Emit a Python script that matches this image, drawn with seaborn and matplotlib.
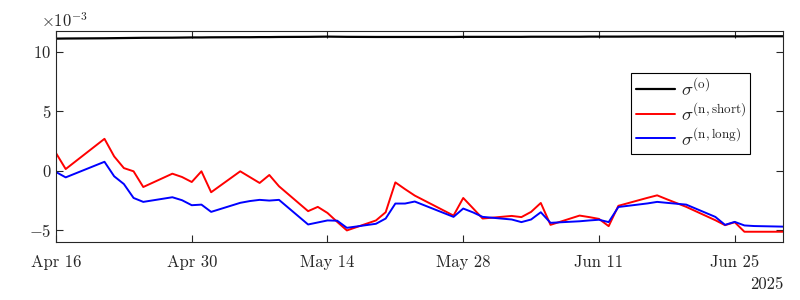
import pandas as pd
import matplotlib
matplotlib.use('Agg')
import matplotlib.pyplot as plt
import seaborn as sns

# trading days shown in the chart
dates = [
    '2025-04-16', '2025-04-17', '2025-04-21', '2025-04-22', '2025-04-23',
    '2025-04-24', '2025-04-25', '2025-04-28', '2025-04-29', '2025-04-30',
    '2025-05-01', '2025-05-02', '2025-05-05', '2025-05-06', '2025-05-07',
    '2025-05-08', '2025-05-09', '2025-05-12', '2025-05-13', '2025-05-14',
    '2025-05-15', '2025-05-16', '2025-05-19', '2025-05-20', '2025-05-21',
    '2025-05-22', '2025-05-23', '2025-05-27', '2025-05-28', '2025-05-29',
    '2025-05-30', '2025-06-02', '2025-06-03', '2025-06-04', '2025-06-05',
    '2025-06-06', '2025-06-09', '2025-06-10', '2025-06-11', '2025-06-12',
    '2025-06-13', '2025-06-16', '2025-06-17', '2025-06-18', '2025-06-20',
    '2025-06-23', '2025-06-24', '2025-06-25', '2025-06-26', '2025-06-27',
    '2025-06-30',
]

# values in units of 1e-3
sigma_o = [
    11.10, 11.11, 11.13, 11.14, 11.15, 11.16, 11.17, 11.18, 11.19, 11.20,
    11.20, 11.21, 11.22, 11.22, 11.23, 11.23, 11.24, 11.25, 11.26, 11.27,
    11.26, 11.25, 11.24, 11.24, 11.24, 11.24, 11.24, 11.24, 11.25, 11.25,
    11.25, 11.25, 11.25, 11.26, 11.26, 11.26, 11.26, 11.27, 11.27, 11.27,
    11.27, 11.28, 11.28, 11.28, 11.28, 11.29, 11.29, 11.29, 11.29, 11.30,
    11.30,
]
sigma_short = [
    1.48, 0.14, 2.68, 1.20, 0.22, -0.05, -1.37, -0.25, -0.53, -0.95,
    -0.05, -1.81, -0.05, -0.54, -1.03, -0.36, -1.31, -3.40, -3.04, -3.55,
    -4.30, -5.02, -4.18, -3.49, -0.98, -1.55, -2.09, -3.77, -2.29, -3.15,
    -4.02, -3.80, -3.90, -3.46, -2.71, -4.55, -3.77, -3.90, -4.05, -4.66,
    -2.95, -2.28, -2.07, -2.40, -3.04, -4.16, -4.58, -4.33, -5.13, -5.13,
    -5.13,
]
sigma_long = [
    -0.11, -0.56, 0.75, -0.47, -1.12, -2.29, -2.62, -2.23, -2.48, -2.90,
    -2.85, -3.46, -2.70, -2.55, -2.45, -2.51, -2.45, -4.52, -4.35, -4.18,
    -4.20, -4.80, -4.46, -4.02, -2.76, -2.76, -2.59, -3.88, -3.18, -3.50,
    -3.88, -4.10, -4.32, -4.10, -3.49, -4.38, -4.25, -4.18, -4.12, -4.32,
    -3.05, -2.75, -2.62, -2.70, -2.85, -3.88, -4.55, -4.30, -4.60, -4.65,
    -4.70,
]

df = pd.DataFrame({
    'date': pd.to_datetime(dates),
    'o': [v * 1e-3 for v in sigma_o],
    'short': [v * 1e-3 for v in sigma_short],
    'long': [v * 1e-3 for v in sigma_long],
})

sns.set_style('ticks')
plt.rcParams['font.family'] = 'serif'
plt.rcParams['font.serif'] = ['cmr10']
plt.rcParams['mathtext.fontset'] = 'cm'
plt.rcParams['axes.unicode_minus'] = False
plt.rcParams['axes.formatter.use_mathtext'] = True

fig = plt.figure(figsize=(8, 3), dpi=100)
ax = fig.add_axes([0.07, 0.193, 0.909, 0.704])

sns.lineplot(data=df, x='date', y='o', color='black', lw=1.6,
             label=r'$\sigma^{(\mathrm{o})}$', ax=ax)
sns.lineplot(data=df, x='date', y='short', color='red', lw=1.4,
             label=r'$\sigma^{(\mathrm{n,short})}$', ax=ax)
sns.lineplot(data=df, x='date', y='long', color='blue', lw=1.4,
             label=r'$\sigma^{(\mathrm{n,long})}$', ax=ax)

ax.set_xlim(pd.Timestamp('2025-04-16'), pd.Timestamp('2025-06-30'))
ax.set_ylim(-6e-3, 11.75e-3)
ax.set_xticks(pd.date_range('2025-04-16', periods=6, freq='14D'))
ax.set_xticklabels(['Apr 16', 'Apr 30', 'May 14', 'May 28', 'Jun 11', 'Jun 25'])
ax.set_yticks([-5e-3, 0, 5e-3, 10e-3])
ax.ticklabel_format(style='sci', axis='y', scilimits=(-3, -3))
ax.set_xlabel('')
ax.set_ylabel('')

for side in ax.spines.values():
    side.set_visible(True)
    side.set_linewidth(0.8)
ax.tick_params(direction='in', top=True, right=True, labelsize=12, length=5)
ax.tick_params(axis='x', pad=9)
off = ax.yaxis.get_offset_text()
off.set_fontsize(12)
off.set_x(-0.02)

ax.text(1.0, -0.165, '2025', transform=ax.transAxes, ha='right', va='top', fontsize=12)

leg = ax.legend(loc='upper right', bbox_to_anchor=(0.955, 0.80), fontsize=13.5,
                frameon=True, fancybox=False, framealpha=1, edgecolor='black',
                borderaxespad=0, handlelength=2.1, labelspacing=0.15,
                handletextpad=0.3, borderpad=0.25)
leg.get_frame().set_linewidth(0.8)

fig.savefig('out.png', dpi=100)
